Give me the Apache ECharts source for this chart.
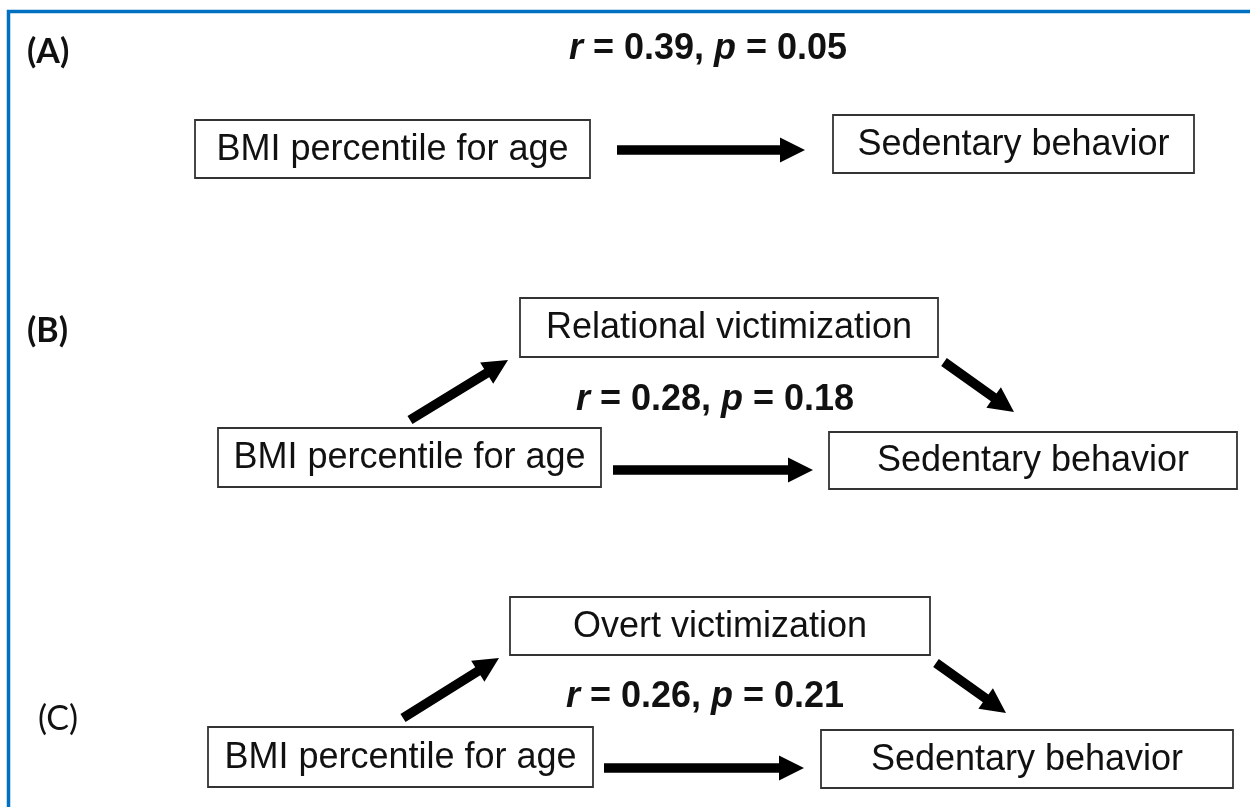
<!DOCTYPE html>
<html>
<head>
<meta charset="utf-8">
<script src="https://cdn.jsdelivr.net/npm/echarts@6/dist/echarts.min.js"></script>
<style>
  html, body { margin: 0; padding: 0; background: #fff; }
  #chart { width: 1250px; height: 807px; }
</style>
</head>
<body>
<div id="chart"></div>
<script>
// ---- Data ----
const panelLabels = ['(A)', '(B)', '(C)'];
const predictorLabels = ['BMI percentile for age', 'BMI percentile for age', 'BMI percentile for age'];
const outcomeLabels = ['Sedentary behavior', 'Sedentary behavior', 'Sedentary behavior'];
const mediatorLabels = [null, 'Relational victimization', 'Overt victimization'];
const rValues = ['0.39', '0.28', '0.26'];
const pValues = ['0.05', '0.18', '0.21'];

// ---- Layout (positions only) ----
const layout = [
  { label: [27, 52, 'bold'], pred: [195, 120, 590, 178], out: [833, 115, 1194, 173],
    med: null, direct: [617, 150, 805, 150], a: null, b: null, stat: [708, 49] },
  { label: [27, 331, 'bold'], pred: [218, 428, 601, 487], out: [829, 432, 1237, 489],
    med: [520, 298, 938, 357], direct: [613, 470, 813, 470],
    a: [410, 420, 508, 360], b: [944, 362, 1014, 412], stat: [715, 400] },
  { label: [38, 719, 'normal'], pred: [208, 727, 593, 787], out: [821, 730, 1233, 788],
    med: [510, 597, 930, 655], direct: [604, 768, 804, 768],
    a: [403, 718, 499, 658], b: [936, 663, 1006, 713], stat: [705, 697] }
];

const BOX_FONT = 'Liberation Sans, Arial, sans-serif';
const LABEL_FONT = 'Lato, Open Sans, sans-serif';

function box(r, text) {
  const [x1, y1, x2, y2] = r;
  return [
    { type: 'rect', shape: { x: x1, y: y1, width: x2 - x1, height: y2 - y1 },
      style: { fill: '#fff', stroke: '#333', lineWidth: 1.8 }, z: 10 },
    { type: 'text', x: (x1 + x2) / 2, y: (y1 + y2) / 2 + 1, z: 11,
      style: { text: text, fill: '#111', fontSize: 36, fontFamily: BOX_FONT,
               align: 'center', verticalAlign: 'middle' } }
  ];
}

function arrow(seg) {
  const [x1, y1, x2, y2] = seg;
  const dx = x2 - x1, dy = y2 - y1;
  const len = Math.sqrt(dx * dx + dy * dy);
  const ux = dx / len, uy = dy / len;
  const nx = -uy, ny = ux;
  const w = 4.8, h = 12.5, L = 25;
  const bx = x2 - ux * L, by = y2 - uy * L;
  const pts = [
    [x1 + nx * w, y1 + ny * w],
    [bx + nx * w, by + ny * w],
    [bx + nx * h, by + ny * h],
    [x2, y2],
    [bx - nx * h, by - ny * h],
    [bx - nx * w, by - ny * w],
    [x1 - nx * w, y1 - ny * w]
  ];
  return { type: 'polygon', shape: { points: pts }, style: { fill: '#000' }, z: 12 };
}

const elements = [];
// outer blue frame (open at right/bottom edges of the picture)
elements.push({ type: 'polyline', shape: { points: [[8.5, 810], [8.5, 11.5], [1260, 11.5]] },
  style: { stroke: '#0070C0', lineWidth: 3.5, fill: null }, z: 1 });

layout.forEach((L, i) => {
  elements.push({ type: 'text', x: L.label[0], y: L.label[1], z: 11,
    style: { text: panelLabels[i], fill: '#111', fontSize: 34, fontFamily: LABEL_FONT,
             fontWeight: L.label[2], align: 'left', verticalAlign: 'middle' } });
  elements.push(...box(L.pred, predictorLabels[i]));
  elements.push(...box(L.out, outcomeLabels[i]));
  if (L.med && mediatorLabels[i]) elements.push(...box(L.med, mediatorLabels[i]));
  elements.push(arrow(L.direct));
  if (L.a) elements.push(arrow(L.a));
  if (L.b) elements.push(arrow(L.b));
  elements.push({ type: 'text', x: L.stat[0], y: L.stat[1], z: 11,
    style: {
      text: '{i|r} = ' + rValues[i] + ', {i|p} = ' + pValues[i],
      fill: '#111', fontSize: 36, fontWeight: 'bold', fontFamily: BOX_FONT,
      align: 'center', verticalAlign: 'middle',
      rich: { i: { fontStyle: 'italic', fontWeight: 'bold', fontSize: 36, fontFamily: BOX_FONT, fill: '#111' } }
    } });
});

const chart = echarts.init(document.getElementById('chart'), null, { renderer: 'canvas' });
chart.setOption({
  backgroundColor: '#ffffff',
  animation: false,
  graphic: { elements: elements }
});
</script>
</body>
</html>
